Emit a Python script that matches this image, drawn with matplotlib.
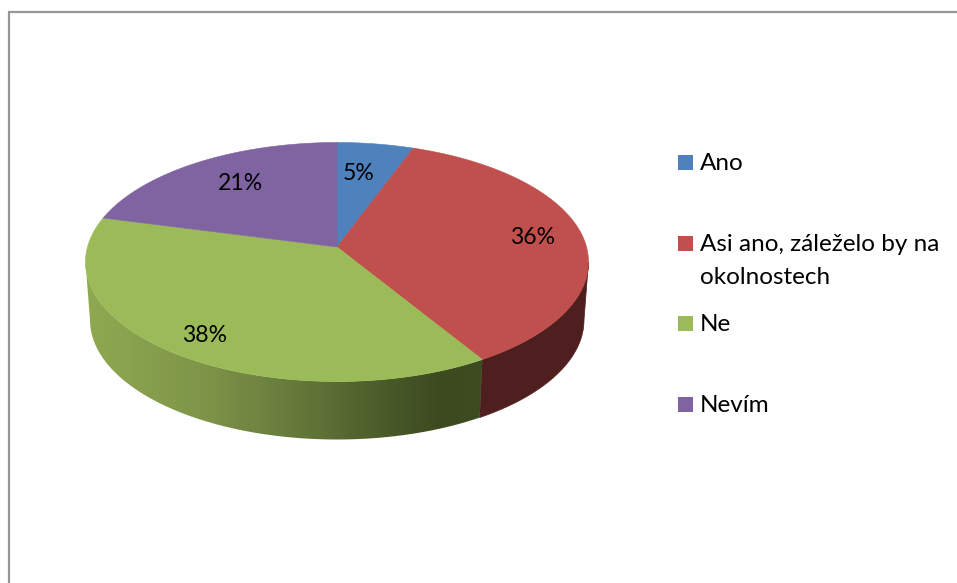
#!/usr/bin/env python3
"""3D-looking pie chart with a legend on the right, drawn in pixel coordinates."""

import matplotlib

matplotlib.use("Agg")
import matplotlib.pyplot as plt
import numpy as np
from matplotlib.colors import LinearSegmentedColormap
from matplotlib.patches import Polygon

plt.rcParams["font.family"] = ["Lato", "DejaVu Sans"]

# Data: the printed labels, and the shares as they look on the tilted rim
categories = ["Ano", "Asi ano, záleželo by na\nokolnostech", "Ne", "Nevím"]
percent_labels = ["5%", "36%", "38%", "21%"]
rim_shares = [4.9, 35.3, 40.8, 19.0]

colors = ["#4f81bd", "#c0504d", "#9bbb59", "#8064a2"]
side_red = "#4f1f1f"
side_green_x = [85, 200, 300, 400, 440, 483]
side_green_colors = ["#8fa951", "#7f9649", "#64783a", "#465626", "#3d4a20", "#3f4c22"]

# Geometry of the tilted disc, in pixels
CX, CY = 337, 262
RX, RY = 251.5, 119.5
APEX_Y = 247
BOT_CX, BOT_CY = 337, 320
BOT_RX, BOT_RY = 247, 119.5

label_pos = [(359, 173), (533, 237), (205, 335), (240, 184)]
legend_baselines = [170, 251, 331, 412]
LABEL_SIZE = 16.6
LEGEND_SIZE = 17.5


def rim(share_from, share_to, n=120):
    """Points on the top ellipse; shares run clockwise from twelve o'clock."""
    theta = np.radians(np.linspace(share_from, share_to, n) * 3.6)
    return np.column_stack((CX + RX * np.sin(theta), CY - RY * np.cos(theta)))


def bottom_rim(share_from, share_to, n=120):
    theta = np.radians(np.linspace(share_from, share_to, n) * 3.6)
    return np.column_stack((BOT_CX + BOT_RX * np.sin(theta), BOT_CY - BOT_RY * np.cos(theta)))


def side_wall(share_from, share_to):
    return np.vstack((rim(share_from, share_to), bottom_rim(share_from, share_to)[::-1]))


fig = plt.figure(figsize=(9.57, 5.83), dpi=100)
ax = fig.add_axes([0, 0, 1, 1])
ax.set_xlim(0, 957)
ax.set_ylim(583, 0)
ax.axis("off")

# Chart frame: only the left and top edges are inside the crop
ax.plot([8.5, 8.5, 957], [583, 12, 12], color="#969696", lw=1.6, solid_joinstyle="miter")

edges = np.concatenate(([0], np.cumsum(rim_shares)))
edges = edges / edges[-1] * 100

# Side wall: red is flat, green fades towards the dark front
red_wall = side_wall(25, edges[2])
ax.add_patch(Polygon(red_wall, closed=True, fc=side_red, ec=side_red, lw=0.5))

green_wall = Polygon(side_wall(edges[2], 75), closed=True, fc="none", ec="none")
ax.add_patch(green_wall)
stops = [(x - side_green_x[0]) / (side_green_x[-1] - side_green_x[0]) for x in side_green_x]
cmap = LinearSegmentedColormap.from_list("green_wall", list(zip(stops, side_green_colors)))
im = ax.imshow(
    np.linspace(0, 1, 400)[None, :],
    cmap=cmap,
    extent=(side_green_x[0], side_green_x[-1], 445, 255),
    aspect="auto",
    zorder=1,
)
im.set_clip_path(green_wall)
ax.set_xlim(0, 957)
ax.set_ylim(583, 0)

# Top face
for i, color in enumerate(colors):
    pts = np.vstack(([CX, APEX_Y], rim(edges[i], edges[i + 1])))
    ax.add_patch(Polygon(pts, closed=True, fc=color, ec=color, lw=0.4, zorder=2))

for text, (x, y) in zip(percent_labels, label_pos):
    ax.text(x, y, text, fontsize=LABEL_SIZE, ha="center", va="center", color="black", zorder=3)

# Legend
for name, color, base in zip(categories, colors, legend_baselines):
    ax.add_patch(Polygon(
        [(678, base - 15), (693, base - 15), (693, base), (678, base)],
        closed=True, fc=color, ec="none",
    ))
    first, *rest = name.split("\n")
    ax.text(700, base, first, fontsize=LEGEND_SIZE, va="baseline", color="black")
    for j, line in enumerate(rest, start=1):
        ax.text(700, base + 33 * j, line, fontsize=LEGEND_SIZE, va="baseline", color="black")

fig.savefig("out.png", dpi=100)
